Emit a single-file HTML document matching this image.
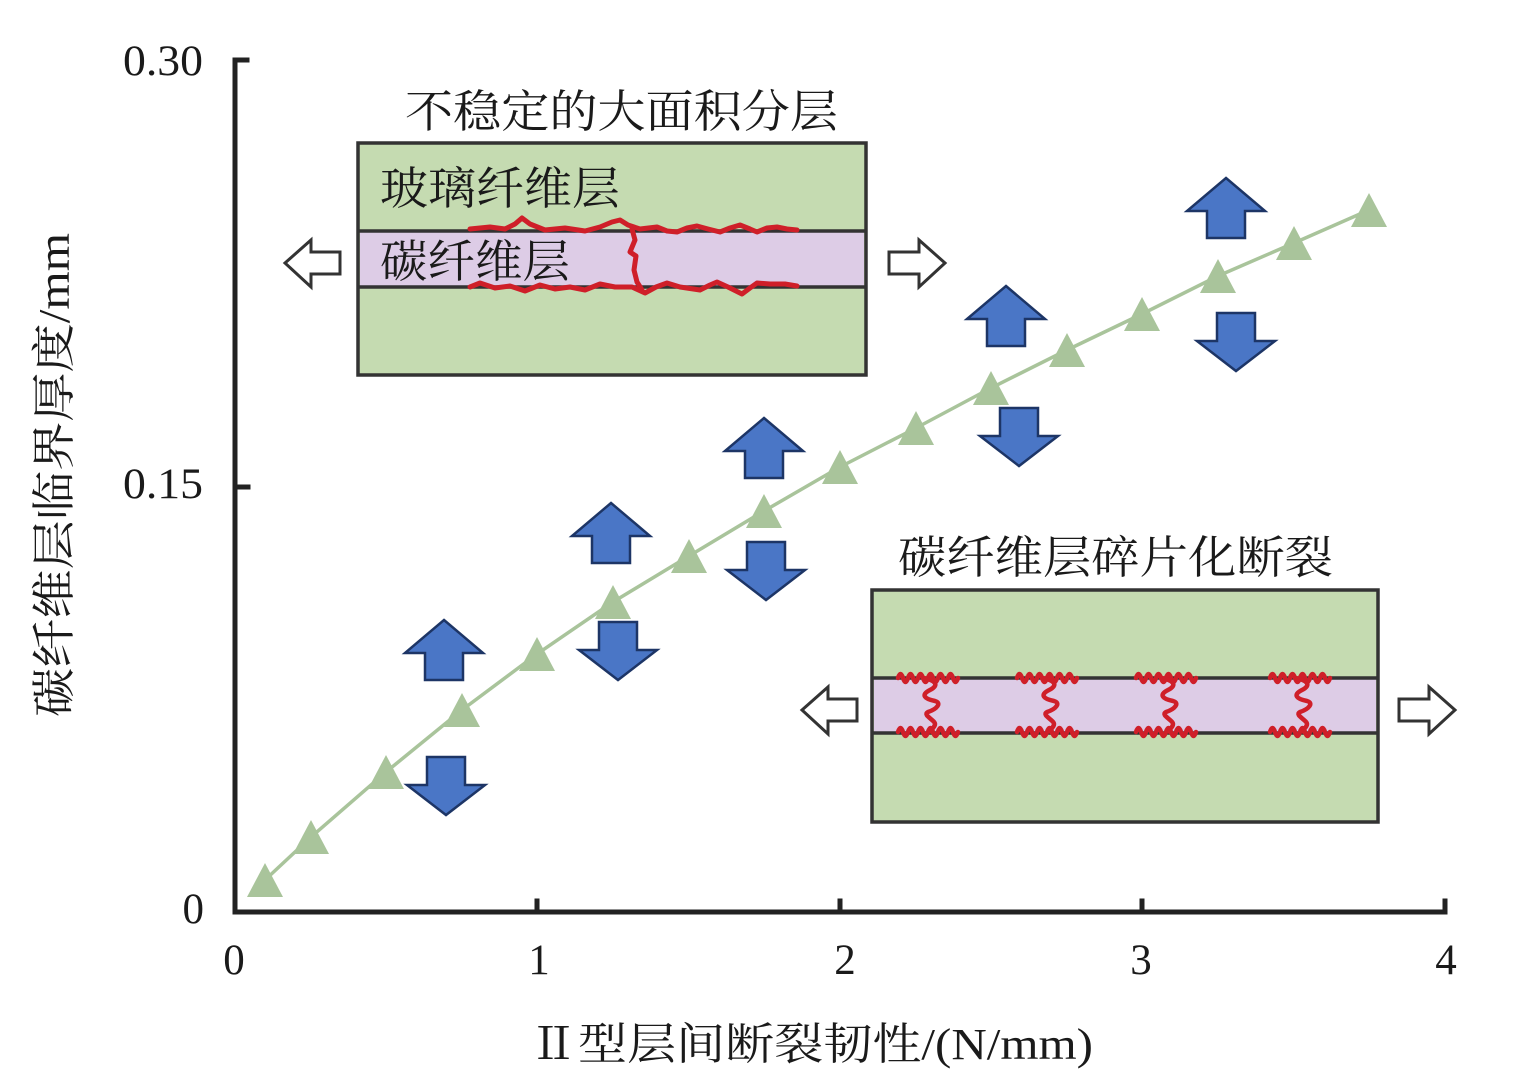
<!DOCTYPE html>
<html><head><meta charset="utf-8"><style>
html,body{margin:0;padding:0;background:#fff;}
svg{display:block;}
text{font-family:"Liberation Serif","Noto Serif CJK SC",serif;fill:#1a1a1a;}
</style></head><body>
<svg width="1515" height="1092" viewBox="0 0 1515 1092" xmlns="http://www.w3.org/2000/svg">
<defs>
  <polygon id="upA" points="0,0 39,33 19,33 19,60 -19,60 -19,33 -39,33" fill="#4a76c6" stroke="#1d3566" stroke-width="2.5" stroke-linejoin="miter"/>
  <polygon id="dnA" points="-19,0 19,0 19,28 39,28 0,58 -39,28 -19,28" fill="#4a76c6" stroke="#1d3566" stroke-width="2.5" stroke-linejoin="miter"/>
  <polygon id="tri" points="0,-17 18,17 -18,17" fill="#a9c49b"/>
  <g id="crack" fill="none" stroke="#cf1f29" stroke-width="4.5" stroke-linecap="round" stroke-linejoin="round">
    <path d="M-30,1 q2.5,-8 5,0 t5,0 t5,0 t5,0 t5,0 t5,0 t5,0 t5,0 t5,0 t5,0 t5,0 t5,0"/>
    <path d="M-30,55 q2.5,-8 5,0 t5,0 t5,0 t5,0 t5,0 t5,0 t5,0 t5,0 t5,0 t5,0 t5,0 t5,0"/>
    <path d="M-5,1 C7,3 12,8 2,13 C-8,18 -3,22 7,24 C14,26 9,32 0,35 C-6,38 7,43 7,47 C7,51 2,52 4,55"/>
  </g>
</defs>

<!-- Axes -->
<g stroke="#222" stroke-width="5" fill="none" stroke-linecap="square">
  <line x1="235" y1="60" x2="235" y2="912"/>
  <line x1="235" y1="912" x2="1445" y2="912"/>
  <line x1="235" y1="60" x2="247" y2="60"/>
  <line x1="235" y1="487" x2="248" y2="487"/>
  <line x1="537" y1="912" x2="537" y2="901"/>
  <line x1="840" y1="912" x2="840" y2="901"/>
  <line x1="1142" y1="912" x2="1142" y2="901"/>
  <line x1="1445" y1="912" x2="1445" y2="901"/>
</g>

<!-- Tick labels -->
<g font-size="43" style="fill:#2a2a2a">
  <text x="203" y="75" text-anchor="end" textLength="80" lengthAdjust="spacingAndGlyphs">0.30</text>
  <text x="203" y="498" text-anchor="end" textLength="80" lengthAdjust="spacingAndGlyphs">0.15</text>
  <text x="204" y="923" text-anchor="end">0</text>
  <text x="234" y="974" text-anchor="middle">0</text>
  <text x="539" y="974" text-anchor="middle">1</text>
  <text x="845" y="974" text-anchor="middle">2</text>
  <text x="1141" y="974" text-anchor="middle">3</text>
  <text x="1446" y="974" text-anchor="middle">4</text>
</g>

<!-- Axis titles -->
<text x="529" y="1059" font-size="44" textLength="564" lengthAdjust="spacingAndGlyphs">Ⅱ型层间断裂韧性/(N/mm)</text>
<text transform="translate(69,475) rotate(-90)" x="0" y="0" font-size="44" text-anchor="middle" textLength="484" lengthAdjust="spacingAndGlyphs">碳纤维层临界厚度/mm</text>

<!-- Top inset -->
<text x="405" y="127" font-size="45" textLength="433" lengthAdjust="spacingAndGlyphs">不稳定的大面积分层</text>
<rect x="358" y="143" width="508" height="232" fill="#c5dbb1" stroke="#333" stroke-width="3.5"/>
<rect x="360" y="231" width="504" height="56" fill="#ddcce6"/>
<line x1="358" y1="231" x2="866" y2="231" stroke="#333" stroke-width="3.5"/>
<line x1="358" y1="287" x2="866" y2="287" stroke="#333" stroke-width="3.5"/>
<text x="380" y="204" font-size="45" textLength="240" lengthAdjust="spacingAndGlyphs">玻璃纤维层</text>
<text x="380" y="277" font-size="45" textLength="190" lengthAdjust="spacingAndGlyphs">碳纤维层</text>
<g fill="none" stroke="#cf1f29" stroke-width="5" stroke-linecap="round" stroke-linejoin="round">
  <path d="M470,229 L490,227 L505,229 L515,224 L522,218 L530,224 L545,230 L565,228 L585,231 L600,227 L612,222 L620,220 L628,225 L640,229 L657,227 L667,231 L677,232 L687,228 L697,226 L708,229 L720,232 L730,228 L740,225 L750,229 L757,232 L767,228 L777,227 L787,229 L797,230"/>
  <path d="M632,229 L635,240 L630,252 L636,256 L634,270 L637,282 L642,290"/>
  <path d="M470,287 L480,283 L495,288 L510,286 L525,291 L540,285 L555,289 L570,287 L585,290 L600,284 L615,287 L632,287 L645,293 L656,287 L667,283 L680,287 L700,290 L710,285 L717,282 L728,287 L742,294 L750,288 L757,283 L770,284 L785,284 L797,286"/>
</g>
<!-- hollow arrows top -->
<polygon points="285,263 311,240 311,252 340,252 340,274 311,274 311,287" fill="#fff" stroke="#333" stroke-width="3"/>
<polygon points="945,263 919,240 919,252 889,252 889,274 919,274 919,287" fill="#fff" stroke="#333" stroke-width="3"/>

<!-- Bottom inset -->
<text x="898" y="573" font-size="45" textLength="435" lengthAdjust="spacingAndGlyphs">碳纤维层碎片化断裂</text>
<rect x="872" y="590" width="506" height="232" fill="#c5dbb1" stroke="#333" stroke-width="3.5"/>
<rect x="874" y="678" width="502" height="55" fill="#ddcce6"/>
<line x1="872" y1="678" x2="1378" y2="678" stroke="#333" stroke-width="3.5"/>
<line x1="872" y1="733" x2="1378" y2="733" stroke="#333" stroke-width="3.5"/>
<use href="#crack" x="928" y="677"/>
<use href="#crack" x="1047" y="677"/>
<use href="#crack" x="1166" y="677"/>
<use href="#crack" x="1300" y="677"/>
<polygon points="802,710 828,687 828,699 857,699 857,721 828,721 828,734" fill="#fff" stroke="#333" stroke-width="3"/>
<polygon points="1455,710 1429,687 1429,699 1399,699 1399,721 1429,721 1429,734" fill="#fff" stroke="#333" stroke-width="3"/>

<!-- Data line -->
<polyline fill="none" stroke="#a9c49b" stroke-width="3.5" points="265,880 311,837 386,772 462,710 537,654 613,602 689,556 764,511 840,467 916,428 991,388 1067,350 1142,314 1218,276 1294,243 1369,210"/>
<use href="#tri" x="265" y="880"/>
<use href="#tri" x="311" y="837"/>
<use href="#tri" x="386" y="772"/>
<use href="#tri" x="462" y="710"/>
<use href="#tri" x="537" y="654"/>
<use href="#tri" x="613" y="602"/>
<use href="#tri" x="689" y="556"/>
<use href="#tri" x="764" y="511"/>
<use href="#tri" x="840" y="467"/>
<use href="#tri" x="916" y="428"/>
<use href="#tri" x="991" y="388"/>
<use href="#tri" x="1067" y="350"/>
<use href="#tri" x="1142" y="314"/>
<use href="#tri" x="1218" y="276"/>
<use href="#tri" x="1294" y="243"/>
<use href="#tri" x="1369" y="210"/>

<!-- Blue arrows -->
<use href="#upA" x="444" y="620"/>
<use href="#dnA" x="446" y="757"/>
<use href="#upA" x="611" y="503"/>
<use href="#dnA" x="618" y="622"/>
<use href="#upA" x="764" y="418"/>
<use href="#dnA" x="766" y="542"/>
<use href="#upA" x="1006" y="286"/>
<use href="#dnA" x="1019" y="408"/>
<use href="#upA" x="1226" y="178"/>
<use href="#dnA" x="1236" y="313"/>
</svg>
</body></html>
